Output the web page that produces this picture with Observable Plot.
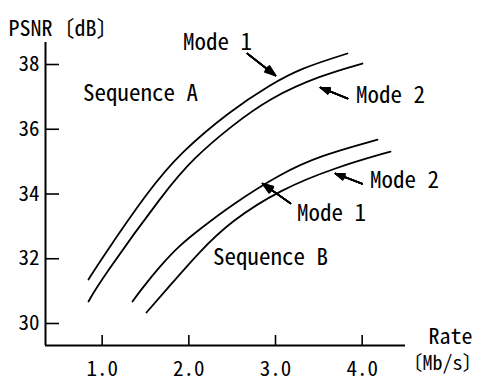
<!DOCTYPE html>
<html>
<head>
<meta charset="utf-8">
<script src="https://cdn.jsdelivr.net/npm/d3@7"></script>
<script src="https://cdn.jsdelivr.net/npm/@observablehq/plot@0.6"></script>
<style>
  html, body { margin: 0; padding: 0; background: #fff; }
</style>
</head>
<body>
<div id="chart"></div>
<script>
// ---- data ----
const seqA_mode1_rate = [0.842, 0.980, 1.534, 1.903, 2.483, 2.942, 3.288, 3.830];
const seqA_mode1_psnr = [31.36, 31.95, 34.11, 35.28, 36.58, 37.38, 37.88, 38.34];
const seqA_mode2_rate = [0.842, 0.980, 1.730, 2.053, 2.480, 2.942, 3.519, 4.003];
const seqA_mode2_psnr = [30.68, 31.33, 34.11, 35.10, 36.08, 36.98, 37.66, 38.03];
const seqB_mode1_rate = [1.350, 1.442, 1.673, 1.903, 2.134, 2.480, 3.057, 3.519, 4.177];
const seqB_mode1_psnr = [30.68, 31.02, 31.79, 32.44, 32.93, 33.64, 34.63, 35.19, 35.68];
const seqB_mode2_rate = [1.511, 1.753, 2.134, 2.480, 3.057, 3.692, 4.327];
const seqB_mode2_psnr = [30.34, 31.08, 32.25, 33.15, 34.14, 34.82, 35.31];

const xTicks = [1, 2, 3, 4];
const yTicks = [30, 32, 34, 36, 38];

const labelText = ["Mode 1", "Sequence A", "Mode 2", "Mode 2", "Mode 1", "Sequence B"];
const labelX = [2.330, 1.442, 4.327, 4.488, 3.646, 2.942];
const labelY = [38.68, 37.10, 37.04, 34.42, 33.40, 32.04];

const arrowX1 = [2.676, 3.831, 3.173, 4.000];
const arrowY1 = [38.34, 36.95, 33.71, 34.32];
const arrowX2 = [3.000, 3.519, 2.851, 3.692];
const arrowY2 = [37.66, 37.29, 34.32, 34.63];

const yTitle = "PSNR〔dB〕";
const xTitle1 = "Rate";
const xTitle2 = "〔Mb/s〕";

// ---- build tables ----
function series(name, xs, ys) { return xs.map((x, i) => ({series: name, x, y: ys[i]})); }
const curves = [
  ...series("A1", seqA_mode1_rate, seqA_mode1_psnr),
  ...series("A2", seqA_mode2_rate, seqA_mode2_psnr),
  ...series("B1", seqB_mode1_rate, seqB_mode1_psnr),
  ...series("B2", seqB_mode2_rate, seqB_mode2_psnr)
];
const labels = labelText.map((t, i) => ({t, x: labelX[i], y: labelY[i]}));
const arrows = arrowX1.map((x1, i) => ({x1, y1: arrowY1[i], x2: arrowX2[i], y2: arrowY2[i]}));

const FONT = "'Noto Sans Mono CJK JP', 'Noto Sans CJK JP', 'DejaVu Sans Mono', monospace";
const xDomain = [0.346, 4.5];
const yDomain = [29.32, 38.68];
const W = 483, H = 381, mT = 42, mL = 45, mB = 36, mR = 78;

const headMarks = [0, 8, 16, 24, 32, 40].map(a =>
  Plot.arrow(arrows, {x1: "x1", y1: "y1", x2: "x2", y2: "y2", stroke: "#000", strokeWidth: 1.6, headLength: 10.5, headAngle: a})
);

const chart = Plot.plot({
  width: W,
  height: H,
  marginTop: mT,
  marginLeft: mL,
  marginBottom: mB,
  marginRight: mR,
  style: {fontFamily: FONT, fontSize: "21px", color: "#000", background: "#fff"},
  x: {domain: xDomain},
  y: {domain: yDomain},
  marks: [
    Plot.axisY({ticks: yTicks, tickSize: 0, tickPadding: 6, label: null, fontSize: 21}),
    Plot.axisX({ticks: xTicks, tickSize: 0, tickPadding: 16, tickFormat: d => d.toFixed(1), label: null, fontSize: 21}),
    Plot.tickY(yTicks, {y: d => d, stroke: "#000", strokeWidth: 1.6, insetRight: W - mL - mR - 14}),
    Plot.tickX(xTicks, {x: d => d, stroke: "#000", strokeWidth: 1.6, insetTop: H - mT - mB - 10}),
    Plot.ruleX([xDomain[0]], {stroke: "#000", strokeWidth: 2}),
    Plot.ruleY([yDomain[0]], {stroke: "#000", strokeWidth: 2}),
    Plot.line(curves, {x: "x", y: "y", z: "series", stroke: "#000", strokeWidth: 1.8, curve: "basis"}),
    ...headMarks,
    Plot.text(labels, {x: "x", y: "y", text: "t", fontSize: 23, fill: "#000"}),
    Plot.text([yTitle], {frameAnchor: "top-left", textAnchor: "start", dx: -37, dy: -22, fontSize: 22, fill: "#000"}),
    Plot.text([xTitle1], {frameAnchor: "bottom-right", textAnchor: "end", dx: 67, dy: -2, fontSize: 22, fill: "#000"}),
    Plot.text([xTitle2], {frameAnchor: "bottom-right", textAnchor: "end", dx: 77, dy: 24, fontSize: 20, fill: "#000"})
  ]
});
document.getElementById("chart").appendChild(chart);
</script>
</body>
</html>
